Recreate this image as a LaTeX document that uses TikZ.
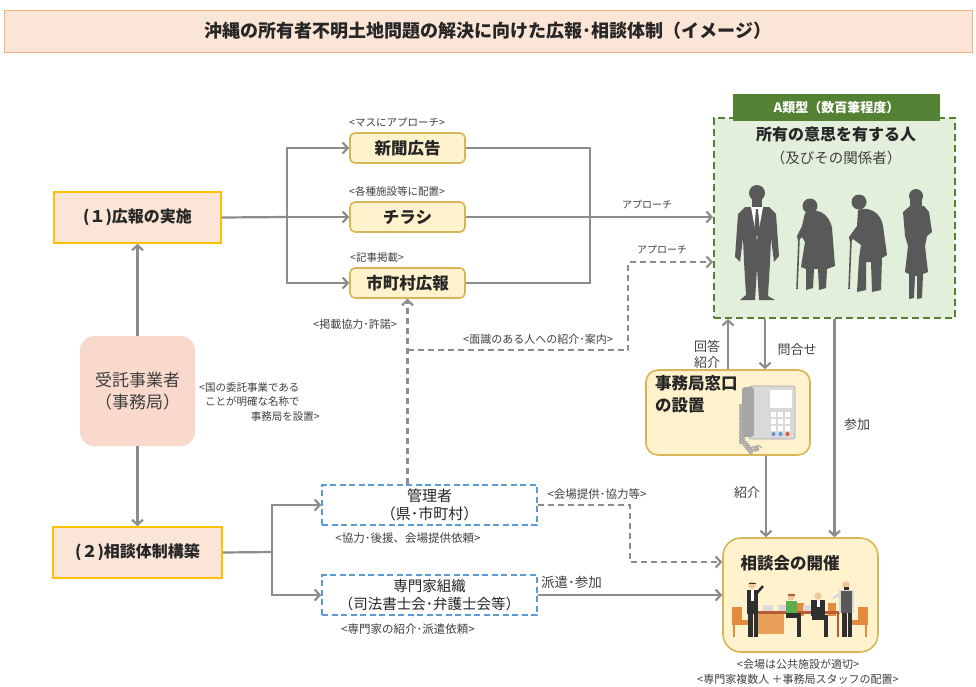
\documentclass[tikz,border=0pt]{standalone}
\usepackage{fontspec}
\setmainfont{Noto Sans CJK JP}
\usetikzlibrary{arrows.meta,decorations.pathmorphing}

\definecolor{linegray}{HTML}{8C8C8C}
\definecolor{txt}{HTML}{262626}
\definecolor{labtxt}{HTML}{3F3F3F}
\definecolor{peach}{HTML}{FBE5D6}
\definecolor{peachline}{HTML}{F4B183}
\definecolor{gold}{HTML}{FFC000}
\definecolor{cream}{HTML}{FFF2CC}
\definecolor{creamline}{HTML}{D6B656}
\definecolor{salmon}{HTML}{F8D9CC}
\definecolor{blueline}{HTML}{5B9BD5}
\definecolor{dgreen}{HTML}{548235}
\definecolor{lgreen}{HTML}{E2EFDA}
\definecolor{sil}{HTML}{595959}
\definecolor{chair}{HTML}{E38B3E}
\definecolor{tabletop}{HTML}{B85C38}
\definecolor{tablefront}{HTML}{E9A15A}
\definecolor{suit}{HTML}{2F2F2F}
\definecolor{skin}{HTML}{F2C7A0}
\definecolor{shirtgreen}{HTML}{5BAE4F}
\definecolor{phonebody}{HTML}{D9D9D9}
\definecolor{phonedark}{HTML}{A6A6A6}
\definecolor{keyblue}{HTML}{5B9BD5}
\definecolor{keyred}{HTML}{E8512B}

\tikzset{
  conn/.style={draw=linegray, line width=2.2pt},
  arr/.style={conn, -{Straight Barb[length=5pt,width=11pt]}},
  darr/.style={arr, dash pattern=on 6pt off 4pt},
  dconn/.style={conn, dash pattern=on 6pt off 4pt},
  titlebox/.style={draw=peachline, fill=peach, line width=1pt, inner sep=0pt, text=txt},
  mainbox/.style={draw=gold, fill=peach, line width=1.6pt, inner sep=0pt, text=txt,
    font=\bfseries\fontsize{16}{19}\selectfont},
  ybox/.style={draw=creamline, fill=cream, line width=1.6pt, inner sep=0pt, text=txt},
  bbox/.style={draw=blueline, fill=white, line width=1.6pt, dash pattern=on 6pt off 3.5pt,
    inner sep=0pt, text=txt, align=center, font=\fontsize{15}{18}\selectfont},
  lab/.style={inner sep=0pt, text=labtxt, font=\fontsize{10.5}{12.5}\selectfont},
  mlab/.style={inner sep=0pt, text=labtxt, font=\fontsize{13}{16}\selectfont, align=center},
}

\begin{document}
\begin{tikzpicture}[x=1pt,y=-1pt]
\useasboundingbox (0,0) rectangle (976,686);

% ---------- heading ----------
\node[titlebox, minimum width=968pt, minimum height=42pt,
  font=\bfseries\fontsize{18}{21}\selectfont] (title) at (488,31)
  {沖縄の所有者不明土地問題の解決に向けた広報･相談体制（イメージ）};

% ---------- left column ----------
\node[mainbox, minimum width=167pt, minimum height=51pt] (pr) at (137.5,217.5) {(１)広報の実施};
\node[fill=salmon, rounded corners=14pt, minimum width=115pt, minimum height=110pt,
  inner sep=0pt, align=center, text=labtxt, font=\fontsize{17}{22}\selectfont]
  (office) at (137.5,391) {受託事業者\\（事務局）};
\node[mainbox, minimum width=169pt, minimum height=51pt] (consult) at (137.5,552.5) {(２)相談体制構築};

\node[lab, anchor=west] (note1) at (199,388) {<国の委託事業である};
\node[lab, anchor=west] (note2) at (205,402) {ことが明確な名称で};
\node[lab, anchor=east] (note3) at (320,417) {事務局を設置>};

\draw[arr] (office.north) -- (pr.south);
\draw[arr] (office.south) -- (consult.north);

% ---------- publicity media ----------
\node[ybox, rounded corners=5pt, minimum width=115pt, minimum height=30pt,
  font=\bfseries\fontsize{16.5}{19}\selectfont] (paper) at (407.5,148) {新聞広告};
\node[ybox, rounded corners=5pt, minimum width=115pt, minimum height=30pt,
  font=\bfseries\fontsize{16.5}{19}\selectfont] (flyer) at (407.5,217) {チラシ};
\node[ybox, rounded corners=5pt, minimum width=115pt, minimum height=30pt,
  font=\bfseries\fontsize{16.5}{19}\selectfont] (bulletin) at (407.5,283) {市町村広報};

\node[lab, anchor=west] (lpaper) at (349,122) {<マスにアプローチ>};
\node[lab, anchor=west] (lflyer) at (349,191) {<各種施設等に配置>};
\node[lab, anchor=west] (lbull) at (350,258) {<記事掲載>};

\coordinate (split1) at (287,217);
\coordinate (join1) at (590,217);
\draw[conn] (pr.east) -- (split1);
\draw[arr] (split1) |- (paper.west);
\draw[arr] (split1) |- (bulletin.west);
\draw[arr] (split1) -- (flyer.west);
\draw[conn] (paper.east) -| (join1);
\draw[conn] (bulletin.east) -| (join1);

% ---------- owners ----------
\node[draw=dgreen, fill=lgreen, line width=2pt, dash pattern=on 7pt off 4pt,
  minimum width=241pt, minimum height=200pt, inner sep=0pt] (owners) at (834.5,218) {};
\node[fill=dgreen, text=white, minimum width=207pt, minimum height=27pt, inner sep=0pt,
  font=\bfseries\fontsize{13}{15}\selectfont] (tag) at (836.5,107.5) {A類型（数百筆程度）};
\node[text=txt, inner sep=0pt, font=\bfseries\fontsize{16}{19}\selectfont] (own1) at (836,134) {所有の意思を有する人};
\node[text=labtxt, inner sep=0pt, font=\fontsize{14.5}{17}\selectfont] (own2) at (836,158) {（及びその関係者）};

% silhouettes: man in suit
\fill[sil] (757,193) circle (8pt);
\fill[sil] (752,198) rectangle (762,209);
\fill[sil] (745,207) -- (769,207) -- (776,214) -- (779,256) -- (774,262) -- (771,238)
  -- (770,262) -- (768,296) -- (775,300) -- (759,300) -- (757,268) -- (755,300)
  -- (740,300) -- (746,295) -- (744,262) -- (743,238) -- (740,262) -- (735,257)
  -- (738,214) -- cycle;
\fill[white] (751,207) -- (763,207) -- (757,240) -- cycle;
\fill[sil] (756,209) -- (758,209) -- (760,232) -- (757,237) -- (754,232) -- cycle;
% elderly woman with cane
\fill[sil] (810,206) circle (7.5pt);
\fill[sil] (805,213) .. controls (815,207) and (829,212) .. (832,228) -- (835,266)
  -- (827,269) -- (826,288) -- (819,290) -- (818,269) -- (814,269) -- (813,288)
  -- (806,290) -- (806,269) -- (801,267) -- (805,242) -- (802,237) -- (798,241)
  -- (797,236) -- (802,226) -- cycle;
\draw[sil, line width=1.6pt] (799,238) -- (797,289);
% elderly man with cane
\fill[sil] (859,202) circle (7.5pt);
\fill[sil] (858,210) .. controls (868,206) and (881,212) .. (883,226) -- (887,255)
  -- (882,258) -- (881,290) -- (872,292) -- (871,262) -- (866,262) -- (866,290)
  -- (857,292) -- (859,258) -- (861,245) -- (853,239) -- (850,243) -- (849,237)
  -- (857,226) -- cycle;
\draw[sil, line width=1.6pt] (851,240) -- (849,289);
% woman with folded arms
\fill[sil] (916,196) circle (7pt);
\fill[sil] (910,196) rectangle (922,208);
\fill[sil] (910,206) -- (924,206) -- (929,212) -- (932,232) -- (927,236) -- (925,246)
  -- (928,272) -- (923,274) -- (922,298) -- (917,299) -- (917,276) -- (915,276)
  -- (914,298) -- (909,299) -- (909,274) -- (905,272) -- (908,246) -- (905,236)
  -- (903,212) -- cycle;

\draw[arr] (flyer.east) -- (flyer.east -| owners.west);
\node[lab, font=\fontsize{10}{12}\selectfont] (lap1) at (647,205) {アプローチ};

% ---------- secretariat window ----------
\node[ybox, rounded corners=12pt, minimum width=164pt, minimum height=85pt] (desk) at (728,412.5) {};
\node[anchor=north west, inner sep=0pt, align=left, text=txt,
  font=\bfseries\fontsize{16.5}{22}\selectfont] (deskt) at (655,375) {事務局窓口\\の設置};
% telephone
\draw[phonedark, line width=1pt, decorate,
  decoration={coil, aspect=0.6, segment length=2.5pt, amplitude=2.5pt}]
  (742,402) -- (742,440) -- (750,450) -- (762,447);
\fill[phonebody, rounded corners=2pt] (749,386) rectangle (795,439);
\draw[phonedark, line width=0.6pt, rounded corners=2pt] (749,386) rectangle (795,439);
\fill[phonedark, rounded corners=3pt] (742,387) rectangle (754,437);
\fill[white] (770,390) rectangle (792,408);
\foreach \cx in {771,778,785} {
  \foreach \cy in {412,419,426} {
    \fill[white] (\cx,\cy) rectangle ++(5,5);
  }
}
\fill[keyblue] (773.5,434) circle (2pt);
\fill[keyblue] (780.5,434) circle (2pt);
\fill[keyred] (787.5,434) circle (2pt);

\draw[arr] (desk.north) -- (desk.north |- owners.south);
\draw[arr] (owners.south -| 765,0) -- (desk.north -| 765,0);
\node[mlab] (lreply) at (707,354) {回答\\紹介};
\node[mlab] (linq) at (797,350) {問合せ};

% ---------- consultation meeting ----------
\node[ybox, rounded corners=18pt, minimum width=155pt, minimum height=114pt] (meet) at (800.5,595) {};
\node[inner sep=0pt, text=txt, font=\bfseries\fontsize{16.5}{19}\selectfont] (meett) at (790,563) {相談会の開催};
% chairs
\fill[chair] (732,607) rectangle (742,623);
\fill[chair] (732,620) rectangle (752,625);
\draw[chair, line width=1.2pt] (734,625) -- (734,637) (750,625) -- (750,637);
\fill[chair] (858,607) rectangle (868,623);
\fill[chair] (848,620) rectangle (868,625);
\draw[chair, line width=1.2pt] (850,625) -- (850,637) (866,625) -- (866,637);
\fill[chair] (796,603) rectangle (804,616);
\fill[chair] (828,603) rectangle (836,616);
% table and laptops
\fill[tablefront] (757,613) rectangle (784,634);
\fill[tabletop] (755,611) rectangle (840,613.5);
\draw[tabletop, line width=1.2pt] (838,613) -- (838,637);
\fill[phonebody] (763,605) rectangle (773,611);
\fill[phonebody] (778,605) rectangle (788,611);
\fill[phonebody] (803,605) rectangle (815,611);
% standing presenter
\fill[suit] (747,590) rectangle (758,614);
\fill[suit] (748,614) rectangle (752.5,637);
\fill[suit] (753.5,614) rectangle (758,637);
\fill[white] (751,590) rectangle (754,601);
\draw[suit, line width=2.5pt] (757,593) -- (763,586);
\fill[skin] (752,585) circle (3.8pt);
\fill[suit] (748.5,583) rectangle (755.5,584);
% seated woman
\fill[shirtgreen] (786,601) rectangle (797,614);
\fill[suit] (786,613) rectangle (801,618);
\fill[suit] (797,618) rectangle (801,637);
\fill[skin] (791,597) circle (3.6pt);
\fill[tabletop] (787.5,594) rectangle (794.5,596);
% seated man
\fill[suit] (811,600) rectangle (825,616);
\fill[white] (816.5,600) rectangle (819.5,607);
\fill[suit] (812,615) rectangle (828,620);
\fill[suit] (824,620) rectangle (828,637);
\fill[skin] (818,596) circle (3.6pt);
% standing man on the right
\fill[suit] (842,613) rectangle (846.5,637);
\fill[suit] (847.5,613) rectangle (852,637);
\fill[white!85!black] (839,590) rectangle (854,613);
\fill[sil] (841,591) rectangle (852,613);
\draw[white!85!black, line width=2.4pt] (840,594) -- (833,598);
\fill[skin] (846,585) circle (3.8pt);
\fill[suit] (843.5,587) rectangle (848.5,589.5);

\node[lab, font=\fontsize{11}{13}\selectfont] (lmeet1) at (798,664) {<会場は公共施設が適切>};
\node[lab, font=\fontsize{11}{13}\selectfont] (lmeet2) at (798,679) {<専門家複数人 ＋事務局スタッフの配置>};

\draw[arr] (desk.south -| 766,0) -- (meet.north -| 766,0);
\draw[arr] (owners.south) -- (owners.south |- meet.north);
\node[mlab] (lintro) at (747,493) {紹介};
\node[mlab] (ljoin) at (857,425) {参加};

% ---------- consultation network ----------
\node[bbox, minimum width=215pt, minimum height=40pt] (admin) at (429.5,505) {管理者\\（県･市町村）};
\node[bbox, minimum width=215pt, minimum height=40pt, font=\fontsize{14.5}{18}\selectfont]
  (experts) at (429.5,595) {専門家組織\\（司法書士会･弁護士会等）};
\node[lab, font=\fontsize{11.5}{13}\selectfont] (ladmin) at (408,538) {<協力･後援、会場提供依頼>};
\node[lab, font=\fontsize{11.5}{13}\selectfont] (lexp) at (408,629) {<専門家の紹介･派遣依頼>};

\coordinate (split2) at (272,552);
\draw[conn] (consult.east) -- (split2);
\draw[arr] (split2) |- (admin.west);
\draw[arr] (split2) |- (experts.west);

\coordinate (venue) at (630,562);
\draw[darr] (admin.east) -| (venue) -- (meet.west |- venue);
\node[lab, font=\fontsize{11.5}{13}\selectfont] (lvenue) at (597,494) {<会場提供･協力等>};
\draw[arr] (experts.east) -- (meet.west |- experts.east);
\node[mlab, anchor=west, font=\fontsize{13.5}{16}\selectfont] (lsend) at (541,582) {派遣･参加};

% ---------- referral paths ----------
\coordinate (ref1) at (407.5,350);
\coordinate (ref2) at (628,350);
\coordinate (ref3) at (628,262);
\draw[darr] (bulletin.south |- admin.north) -- (bulletin.south);
\draw[darr] (ref1) -- (ref2) -- (ref3) -- (owners.west |- ref3);
\node[lab, font=\fontsize{10}{12}\selectfont] (lap2) at (662,250) {アプローチ};
\node[lab, font=\fontsize{11}{13}\selectfont] (lpub) at (355,324) {<掲載協力･許諾>};
\node[lab, font=\fontsize{11}{13}\selectfont] (lintro2) at (538,339) {<面識のある人への紹介･案内>};

\end{tikzpicture}
\end{document}
